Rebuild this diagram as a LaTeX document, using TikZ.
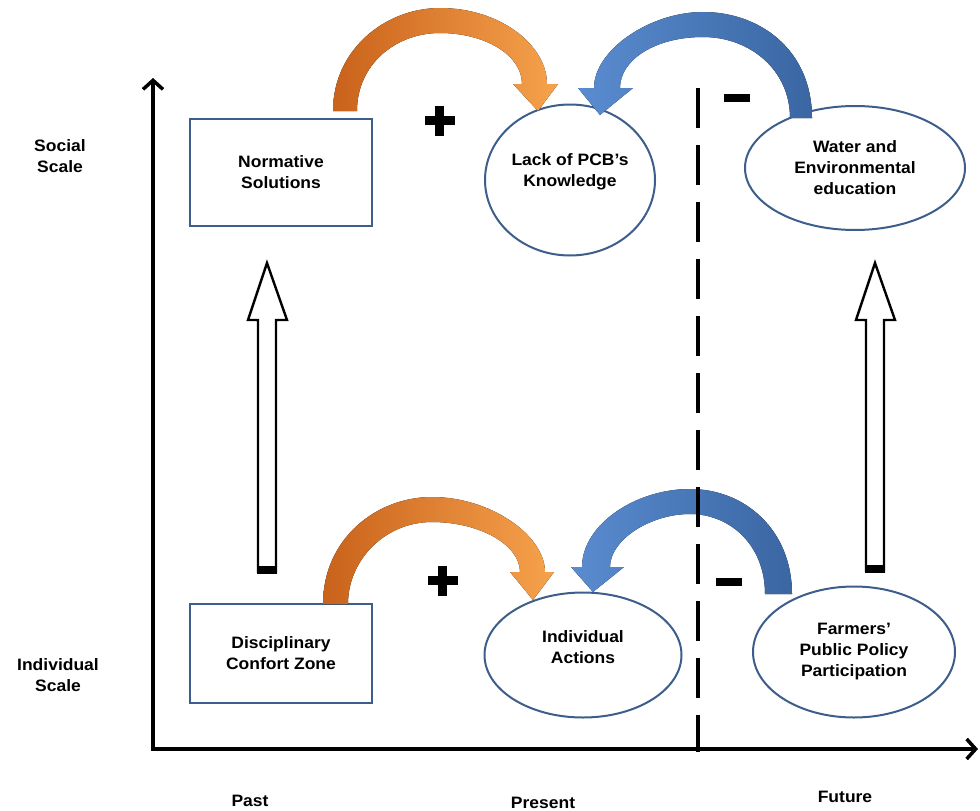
\documentclass[tikz,border=0pt]{standalone}
\usepackage{fontspec}
\setmainfont{Liberation Sans}[FakeStretch=1.06]
\usetikzlibrary{shapes.geometric,arrows.meta}
\definecolor{orD}{HTML}{C9621B}
\definecolor{orL}{HTML}{F6A24C}
\definecolor{blL}{HTML}{5A8CD0}
\definecolor{blD}{HTML}{3A66A2}
\definecolor{edge}{HTML}{3D5D8A}
\tikzset{
  txt/.style={font=\fontsize{16.5pt}{21pt}\selectfont\bfseries, align=center},
  boxnode/.style={txt, draw=edge, line width=2pt, rectangle, fill=white},
  ellnode/.style={txt, draw=edge, line width=2pt, ellipse, inner sep=0pt, fill=white},
  axisline/.style={line width=3.5pt, line join=miter},
  dashline/.style={line width=4.5pt, dash pattern=on 40pt off 17pt},
  hollow/.style={draw=black, line width=2.4pt, fill=white, line join=miter},
  orarrow/.style={left color=orD, right color=orL},
  blarrow/.style={left color=blL, right color=blD},
}
\begin{document}
\begin{tikzpicture}[x=1pt, y=-1pt]
\useasboundingbox (0,0) rectangle (980,811);

% axes
\coordinate (ytop) at (153,78);
\coordinate (orig) at (153,749);
\coordinate (xend) at (978,749);
\draw[axisline, {Straight Barb[length=9pt,width=20pt]}-{Straight Barb[length=9pt,width=20pt]}] (ytop) -- (orig) -- (xend);

% nodes
\node[boxnode, minimum width=182pt, minimum height=107pt] (ns) at (281,172) {Normative\\Solutions};
\node[ellnode, minimum width=170pt, minimum height=151pt,
  label={[txt, yshift=8pt]center:Lack of PCB’s\\Knowledge}] (lack) at (570,180) {};
\node[ellnode, minimum width=220pt, minimum height=124pt] (water) at (855,168) {Water and\\Environmental\\education};
\node[boxnode, minimum width=182pt, minimum height=99pt] (dcz) at (281,653) {Disciplinary\\Confort Zone};
\node[ellnode, minimum width=197pt, minimum height=125pt,
  label={[txt, yshift=8pt]center:Individual\\Actions}] (ia) at (583,655) {};
\node[ellnode, minimum width=202pt, minimum height=131pt] (fpp) at (854,652) {Farmers’\\Public Policy\\Participation};

% axis labels
\node[txt] (social) at (60,156) {Social\\Scale};
\node[txt] (indiv) at (58,675) {Individual\\Scale};
\node[txt] (past) at (250,801) {Past};
\node[txt] (present) at (543,803) {Present};
\node[txt] (future) at (845,797) {Future};

% top orange curved arrow
\fill[orarrow] (333,111) .. controls (333,50) and (385,8) .. (440,8)
  .. controls (500,8) and (547,45) .. (547,84)
  -- (558,84) -- (538,111) -- (513,84) -- (522,84)
  .. controls (522,55) and (485,33) .. (440,33)
  .. controls (395,33) and (357,65) .. (357,111) -- cycle;

% top blue curved arrow
\fill[blarrow] (812,118) .. controls (812,50) and (760,12) .. (703,12)
  .. controls (650,12) and (594,50) .. (594,88)
  -- (578,88) -- (600,115) -- (633,88) -- (620,88)
  .. controls (620,60) and (655,37) .. (703,37)
  .. controls (750,37) and (790,70) .. (790,118) -- cycle;

% bottom orange curved arrow
\fill[orarrow] (323,604) .. controls (323,540) and (375,497) .. (432,497)
  .. controls (490,497) and (545,535) .. (545,572)
  -- (554,572) -- (533,600) -- (510,572) -- (520,572)
  .. controls (520,545) and (480,522) .. (432,522)
  .. controls (385,522) and (348,560) .. (348,604) -- cycle;

% bottom blue curved arrow
\fill[blarrow] (792,594) .. controls (792,530) and (745,489) .. (690,489)
  .. controls (635,489) and (582,525) .. (582,567)
  -- (571,567) -- (593,592) -- (624,567) -- (610,567)
  .. controls (610,540) and (650,514) .. (690,514)
  .. controls (730,514) and (765,545) .. (765,594) -- cycle;

% dashed divider
\coordinate (dtop) at (698,88);
\coordinate (dbot) at (698,752);
\draw[dashline] (dtop) -- (dbot);

% signs
\fill (425,116) rectangle (455,125);
\fill (435,106) rectangle (444,136);
\fill (428,576) rectangle (458,585);
\fill (438,566) rectangle (447,596);
\fill (724,94) rectangle (750,102);
\fill (716,578) rectangle (742,586);

% hollow vertical arrows
\draw[hollow] (258,572) -- (258,320) -- (248,320) -- (267,263) -- (287,320) -- (276,320) -- (276,572) -- cycle;
\fill (256.8,566) rectangle (277.2,573.5);
\draw[hollow] (866,571) -- (866,320) -- (856,320) -- (875,263) -- (895,320) -- (884,320) -- (884,571) -- cycle;
\fill (864.8,565) rectangle (885.2,572.5);
\end{tikzpicture}
\end{document}
